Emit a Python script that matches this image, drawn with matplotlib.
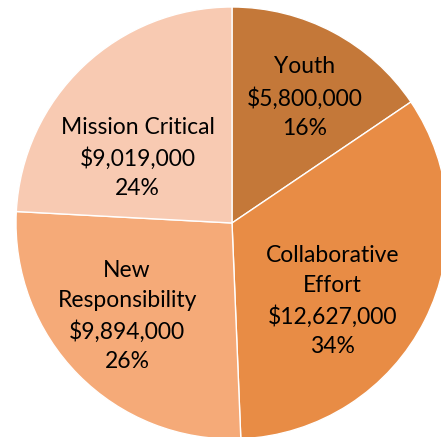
import numpy as np
import matplotlib
matplotlib.use("Agg")
import matplotlib.pyplot as plt

categories = ["Youth", "Collaborative\nEffort", "New\nResponsibility", "Mission Critical"]
values = [5800000, 12627000, 9894000, 9019000]
percents = ["16%", "34%", "26%", "24%"]
colors = ["#C47839", "#E88C45", "#F5AA78", "#F8CAB2"]
label_radius = [0.67, 0.59, 0.65, 0.53]
label_angle_shift = [-2.0, -11.0, -3.0, 12.0]

plt.rcParams['font.family'] = ['Lato', 'DejaVu Sans']

fig = plt.figure(figsize=(4.41, 4.37), dpi=100)
ax = fig.add_axes([0, 0, 1, 1])
wedges, _ = ax.pie(values, colors=colors, startangle=90, counterclock=False,
                   wedgeprops=dict(edgecolor="white", linewidth=1.0))
for w, cat, v, p, r, da in zip(wedges, categories, values, percents,
                               label_radius, label_angle_shift):
    ang = np.deg2rad((w.theta1 + w.theta2) / 2 + da)
    x, y = r * np.cos(ang), r * np.sin(ang)
    ax.text(x, y, f"{cat}\n${v:,.0f}\n{p}", ha="center", va="center",
            fontsize=16.5, color="black", linespacing=1.5)
ax.set_aspect('auto')
ax.set_xlim(-232 / 216, (441 - 232) / 216)
ax.set_ylim(-214 / 216, 223 / 216)
ax.axis('off')
fig.savefig("out.png", dpi=100)
